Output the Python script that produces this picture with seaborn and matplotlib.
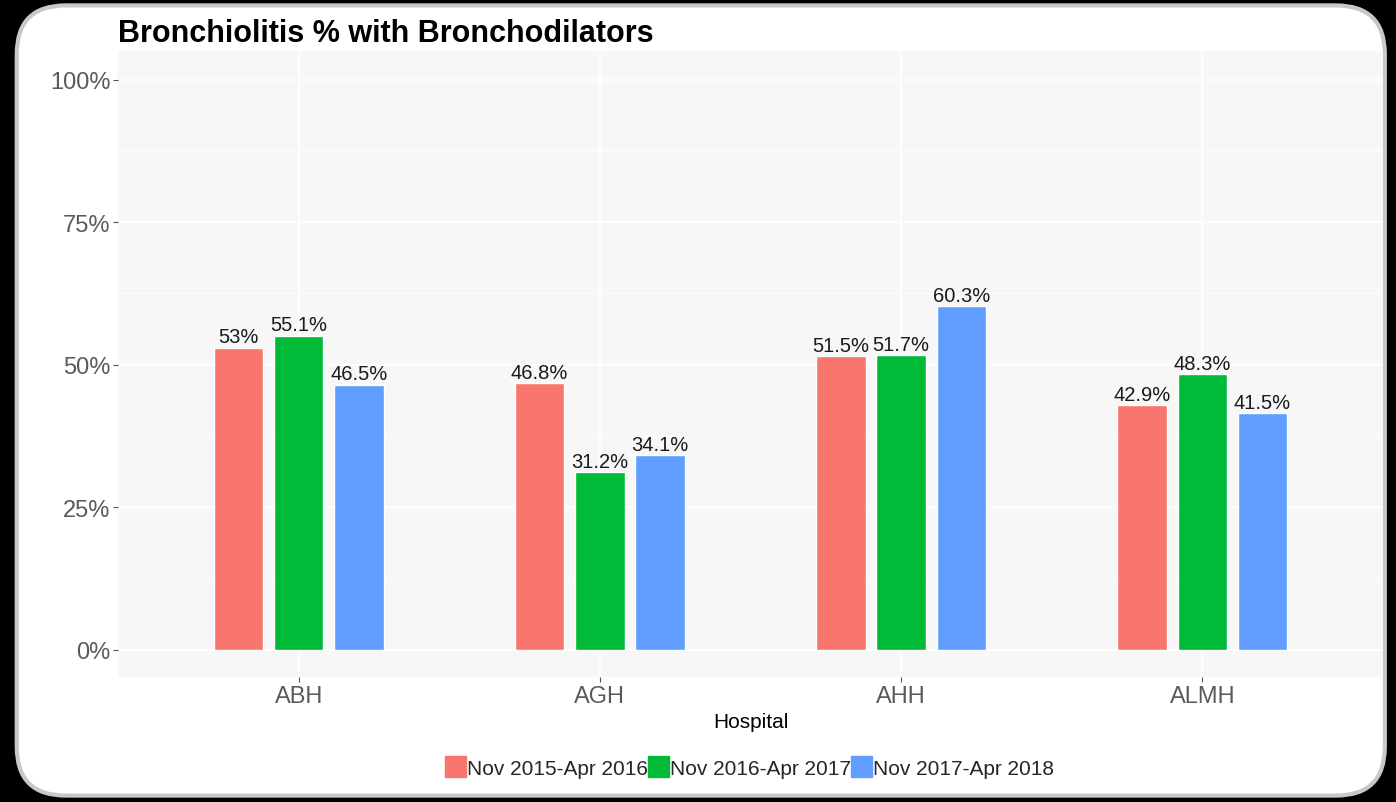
import numpy as np
import pandas as pd
import matplotlib.pyplot as plt
import seaborn as sns
from matplotlib.patches import FancyBboxPatch, Patch

sns.set_theme(style="whitegrid")
plt.rcParams['font.family'] = ['Liberation Sans', 'DejaVu Sans']

hospitals = ["ABH", "AGH", "AHH", "ALMH"]
periods = ["Nov 2015-Apr 2016", "Nov 2016-Apr 2017", "Nov 2017-Apr 2018"]
pct_2016 = [53.0, 46.8, 51.5, 42.9]
pct_2017 = [55.1, 31.2, 51.7, 48.3]
pct_2018 = [46.5, 34.1, 60.3, 41.5]
colors = ["#F8766D", "#00BA38", "#619CFF"]

df = pd.DataFrame({
    "Hospital": hospitals * 3,
    "Period": np.repeat(periods, len(hospitals)),
    "pct": pct_2016 + pct_2017 + pct_2018,
})
df["frac"] = df["pct"] / 100

fig = plt.figure(figsize=(13.96, 8.03), dpi=100)
fig.patch.set_facecolor("black")

# rounded white frame, sits behind the axes
frame = FancyBboxPatch((0.012, 0.008), 0.98, 0.984, transform=fig.transFigure,
                       boxstyle="round,pad=0,rounding_size=0.035",
                       facecolor="white", edgecolor="#c8c8c8", linewidth=3,
                       mutation_aspect=1396 / 803, zorder=-10)
fig.patches.append(frame)

ax = fig.add_axes([0.0845, 0.1557, 0.9062, 0.7795])
ax.set_zorder(1)
ax.set_facecolor("#F7F7F7")

sns.barplot(data=df, x="Hospital", y="frac", hue="Period", order=hospitals,
            hue_order=periods, palette=colors, width=0.6, gap=0.18,
            saturation=1, ax=ax, legend=False, zorder=3)

for cont, vals in zip(ax.containers, [pct_2016, pct_2017, pct_2018]):
    labels = [f"{v:g}%" for v in vals]
    ax.bar_label(cont, labels=labels, padding=1, fontsize=14.5, color="#1a1a1a")

ax.set_xlim(-0.6, 3.6)
ax.set_ylim(-0.0475, 1.05)
ax.set_yticks([0, 0.25, 0.5, 0.75, 1.0])
ax.set_yticklabels(["0%", "25%", "50%", "75%", "100%"])
ax.set_yticks([0.125, 0.375, 0.625, 0.875], minor=True)
ax.grid(True, which="major", color="white", linewidth=1.2, zorder=0)
ax.grid(True, which="minor", axis="y", color="white", linewidth=0.6, zorder=0)
ax.set_axisbelow(True)
for s in ax.spines.values():
    s.set_visible(False)

ax.tick_params(axis="both", which="major", length=3.5, width=0.8, color="#555555",
               labelsize=17, labelcolor="#5a5a5a", pad=2, left=True, bottom=True)
ax.tick_params(axis="y", which="minor", length=0)
ax.set_xlabel("Hospital", fontsize=15, color="black", labelpad=4)
ax.set_ylabel("")

fig.text(0.0845, 0.958, "Bronchiolitis % with Bronchodilators", fontsize=22,
         fontweight="bold", ha="left", va="center", color="black")

handles = [Patch(facecolor=c, edgecolor=c) for c in colors]
fig.legend(handles, periods, loc="center", bbox_to_anchor=(0.537, 0.044), ncol=3,
           frameon=False, fontsize=15, handlelength=1.0, handleheight=1.2,
           handletextpad=0.05, columnspacing=0.0, borderaxespad=0)

fig.savefig("out.png", dpi=100, facecolor=fig.get_facecolor())
